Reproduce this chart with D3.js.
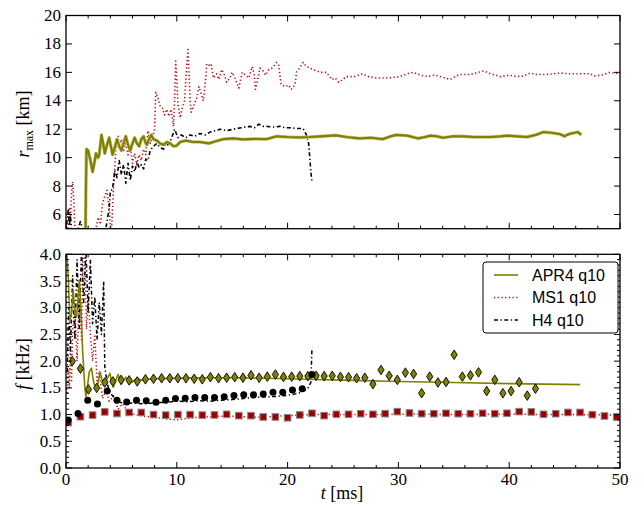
<!DOCTYPE html>
<html><head><meta charset="utf-8">
<script src="https://cdn.jsdelivr.net/npm/d3@7"></script>
<style>
body{margin:0;background:#fff;}
text{font-family:"Liberation Serif",serif;}
.leg{font-family:"Liberation Sans",Arial,sans-serif;}
</style></head>
<body>
<svg id="c" width="644" height="514"></svg>
<script>
// ---------- DATA ----------
const xTicks = [0, 10, 20, 30, 40, 50];
const rTicks = [6, 8, 10, 12, 14, 16, 18, 20];
const fTicks = [0.0, 0.5, 1.0, 1.5, 2.0, 2.5, 3.0, 3.5, 4.0];
const seriesNames = ["APR4 q10", "MS1 q10", "H4 q10"];

// top panel: r_max [km] vs t [ms]
const apr4R = [[1.75,4.0],[1.8,8.0],[1.85,10.6],[2.0,10.5],[2.2,9.8],[2.4,9.0],[2.6,9.8],[2.7,10.3],[2.9,10.0],[3.0,10.2],[3.2,11.6],[3.35,11.0],[3.5,10.3],[3.7,10.9],[3.9,11.4],[4.05,10.8],[4.2,10.2],[4.4,10.7],[4.6,11.3],[4.8,10.8],[5.0,10.5],[5.2,11.0],[5.4,11.5],[5.6,10.9],[5.8,10.5],[6.0,11.0],[6.2,11.4],[6.4,11.0],[6.6,10.8],[6.8,11.3],[7.0,11.5],[7.15,11.1],[7.3,10.9],[7.5,11.3],[7.7,11.6],[7.9,11.3],[8.2,11.2],[8.5,11.0],[8.8,10.9],[9.1,11.1],[9.4,11.0],[9.7,10.8],[10.0,10.85],[10.3,11.1],[10.8,11.2],[11.5,11.1],[12.1,11.1],[12.9,11.0],[13.5,11.15],[14.2,11.3],[15.1,11.35],[16,11.28],[17,11.32],[18.1,11.3],[19.0,11.5],[20,11.45],[21,11.42],[22,11.45],[23,11.5],[24.4,11.57],[25.3,11.45],[26.5,11.35],[27.5,11.4],[28.6,11.3],[29.3,11.5],[29.8,11.6],[30.8,11.55],[31.8,11.35],[32.4,11.45],[32.9,11.55],[33.5,11.5],[34.0,11.4],[34.9,11.5],[35.8,11.5],[36.8,11.45],[37.5,11.45],[38.3,11.45],[39.2,11.5],[39.8,11.55],[40.7,11.5],[41.6,11.45],[42.4,11.6],[43.1,11.8],[43.8,11.75],[44.6,11.65],[45.0,11.5],[45.2,11.6],[45.6,11.7],[46.2,11.8],[46.5,11.6]];
const ms1R = [[0.2,5.0],[0.3,6.5],[0.4,5.5],[0.5,7.5],[0.6,8.3],[0.7,7.0],[0.8,5.0],[1.5,3.0],[2.7,5.0],[2.9,5.8],[3.1,5.3],[3.3,6.8],[3.5,7.3],[3.7,7.7],[3.9,6.5],[4.0,5.2],[4.1,4.8],[4.3,8.0],[4.5,10.5],[4.7,11.5],[4.8,10.8],[5.0,11.3],[5.2,10.5],[5.4,11.0],[5.6,10.2],[5.8,10.8],[6.0,9.6],[6.2,10.3],[6.4,9.5],[6.6,10.2],[6.8,9.8],[7.0,10.6],[7.2,10.2],[7.4,11.9],[7.6,11.0],[7.8,11.4],[8.0,12.0],[8.1,14.6],[8.3,14.2],[8.5,13.6],[8.7,13.5],[8.9,13.0],[9.1,13.4],[9.3,12.9],[9.5,13.4],[9.7,12.2],[9.8,14.0],[9.9,16.8],[10.0,15.5],[10.1,13.8],[10.3,12.8],[10.5,13.5],[10.7,14.0],[10.9,16.5],[11.0,17.6],[11.1,16.0],[11.2,14.0],[11.3,13.2],[11.5,13.6],[11.8,14.2],[12.0,15.0],[12.2,14.5],[12.4,14.0],[12.6,15.5],[12.7,16.6],[12.9,16.5],[13.1,16.6],[13.3,15.6],[13.6,15.9],[13.8,15.5],[14.05,16.2],[14.3,15.8],[14.5,15.3],[14.8,15.6],[15.0,16.0],[15.3,15.5],[15.6,14.9],[15.9,16.0],[16.2,15.8],[16.5,15.6],[16.8,16.4],[17.0,15.8],[17.1,14.8],[17.3,15.5],[17.5,16.3],[17.8,16.1],[18.0,15.8],[18.3,16.2],[18.6,16.3],[19.0,16.7],[19.2,16.5],[19.4,15.2],[19.5,15.1],[19.8,15.0],[20.1,15.1],[20.3,14.8],[20.5,14.9],[20.7,15.3],[20.8,16.0],[21.0,16.2],[21.4,16.7],[21.7,16.4],[22.0,16.3],[22.3,16.2],[22.6,16.1],[23.0,16.0],[23.5,16.0],[24.0,15.5],[24.3,15.6],[24.6,15.3],[25.0,15.5],[25.3,15.7],[26.0,15.7],[26.8,15.9],[27.3,15.7],[28.0,15.6],[29.0,15.6],[30.1,15.7],[30.8,15.9],[31.3,16.0],[32.0,15.8],[32.6,15.7],[33.2,15.8],[33.6,15.75],[34.2,15.6],[34.7,15.5],[35.1,15.7],[35.6,15.85],[36.5,15.85],[37.2,16.0],[37.7,16.1],[38.3,15.9],[38.8,15.8],[39.2,15.7],[40.0,15.8],[40.7,15.7],[41.3,15.75],[41.9,15.95],[42.5,15.85],[43.3,15.85],[44.0,15.9],[44.6,15.95],[45.5,15.9],[46.5,15.9],[47.3,15.9],[47.7,15.75],[48.3,15.8],[49.1,16.0],[49.5,15.95],[50,15.9]];
const h4R = [[0.0,4.6],[0.1,5.6],[0.2,6.3],[0.3,5.2],[0.4,5.9],[0.5,5.0],[0.7,4.5],[1.0,4.8],[1.3,5.5],[1.6,4.7],[2.5,4.0],[3.5,4.5],[3.9,6.5],[4.0,7.6],[4.2,7.8],[4.4,9.1],[4.6,8.6],[4.8,9.8],[5.0,8.8],[5.2,9.5],[5.4,8.2],[5.6,9.6],[5.8,8.4],[6.0,9.4],[6.2,9.0],[6.4,9.7],[6.6,9.3],[6.8,9.5],[7.0,9.2],[7.2,9.9],[7.4,9.8],[7.6,10.5],[7.9,10.8],[8.2,11.0],[8.5,10.7],[8.8,10.6],[9.0,11.0],[9.2,10.9],[9.5,11.3],[9.8,12.0],[10.1,11.4],[10.4,11.6],[10.8,11.4],[11.2,11.6],[11.6,11.5],[12.1,11.7],[12.6,11.6],[13.0,11.8],[13.5,11.9],[13.9,12.0],[14.5,11.9],[15.1,12.0],[15.8,12.1],[16.6,12.2],[17.0,12.1],[17.4,12.35],[17.8,12.2],[18.1,12.2],[18.7,12.15],[19.3,12.2],[19.8,12.1],[20.2,12.1],[20.8,12.05],[21.4,12.05],[21.7,11.6],[21.9,11.0],[22.0,10.0],[22.1,9.0],[22.2,8.3]];

// bottom panel: f [kHz] vs t [ms] (lines)
const apr4F = [[0.05,4.1],[0.2,3.6],[0.35,2.75],[0.5,2.9],[0.65,3.33],[0.8,2.9],[0.96,2.83],[1.1,3.2],[1.2,3.52],[1.35,3.0],[1.5,2.2],[1.7,1.5],[1.8,1.34],[1.95,1.55],[2.1,1.8],[2.3,1.87],[2.5,1.6],[2.75,1.46],[2.9,1.6],[3.07,1.8],[3.25,1.65],[3.4,1.55],[3.6,1.62],[3.97,1.77],[4.1,1.62],[4.27,1.51],[4.5,1.65],[4.7,1.75],[4.85,1.65],[5.0,1.57],[5.2,1.64],[5.4,1.7],[5.65,1.64],[5.9,1.6],[6.15,1.64],[6.4,1.68],[6.7,1.65],[7.0,1.64],[7.5,1.66],[8,1.67],[10,1.68],[12,1.69],[15,1.69],[18,1.68],[20,1.67],[25,1.645],[30,1.62],[35,1.6],[40,1.58],[46.4,1.56]];
const ms1F = [[0.1,1.4],[0.2,1.9],[0.3,1.5],[0.4,2.3],[0.5,1.6],[0.6,2.6],[0.8,3.0],[1.0,2.0],[1.2,3.3],[1.4,2.4],[1.55,4.1],[1.7,3.9],[1.85,2.6],[2.0,3.2],[2.2,2.5],[2.4,2.0],[2.6,2.5],[2.8,1.6],[3.0,1.8],[3.3,1.3],[3.6,1.45],[3.9,1.25],[4.3,1.35],[4.7,1.1],[5.1,1.2],[5.6,1.05],[6.2,1.0],[7,0.97],[8,0.95],[9,0.92],[10,0.9],[11,0.93],[12,0.95],[13,0.96],[14,0.97],[15,0.97],[16,0.96],[17,0.95],[18,0.95],[19,0.97],[20,0.98],[22,1.0],[25,1.0],[28,1.0],[31,1.01],[34,1.0],[37,1.0],[40,1.01],[43,1.0],[46,1.0],[50,0.99]];
const h4F = [[0.1,1.8],[0.25,3.0],[0.4,2.2],[0.6,3.6],[0.8,2.4],[1.0,3.9],[1.2,2.6],[1.4,4.1],[1.6,3.1],[1.8,4.1],[2.0,2.9],[2.2,3.9],[2.4,2.7],[2.6,3.2],[2.8,2.4],[3.0,3.1],[3.2,2.5],[3.4,3.5],[3.5,1.9],[3.7,1.6],[3.9,1.45],[4.2,1.35],[4.6,1.27],[5,1.22],[5.5,1.2],[6,1.22],[7,1.2],[8,1.22],[9,1.23],[10,1.25],[11,1.24],[12,1.26],[13,1.25],[14,1.27],[15,1.28],[16,1.3],[17,1.32],[18,1.33],[19,1.34],[20,1.36],[21,1.4],[21.8,1.48],[22.1,1.6],[22.2,2.25]];

// bottom panel markers
const apr4Mt = [0.57,1.30,2.03,2.77,3.50,4.23,4.97,5.70,6.43,7.17,7.90,8.63,9.37,10.10,10.83,11.57,12.30,13.03,13.77,14.50,15.23,15.97,16.70,17.43,18.17,18.90,19.63,20.37,21.10,21.83,22.57,23.30,24.03,24.77,25.50,26.23,26.97,27.70,28.43,29.17,29.90,30.63,31.37,32.10,32.83,33.57,34.30,35.03,35.77,36.50,37.23,37.97,38.70,39.43,40.17,40.90,41.63,42.37];
const apr4Mf = [2.00,1.86,1.47,1.50,1.60,1.62,1.65,1.64,1.62,1.66,1.67,1.68,1.68,1.68,1.68,1.67,1.66,1.70,1.68,1.69,1.70,1.69,1.735,1.69,1.71,1.75,1.705,1.71,1.72,1.72,1.725,1.72,1.725,1.705,1.70,1.68,1.69,1.57,1.835,1.725,1.65,1.785,1.76,1.40,1.71,1.60,1.61,2.12,1.71,1.735,1.79,1.44,1.65,1.40,1.44,1.605,1.355,1.485];
const h4Mt = [0.2,1.08,1.96,2.84,3.72,4.6,5.48,6.36,7.24,8.12,9.0,9.88,10.76,11.64,12.52,13.4,14.28,15.16,16.04,16.92,17.8,18.68,19.56,20.44,21.32,22.2];
const h4Mf = [0.90,1.02,1.27,1.20,1.44,1.27,1.235,1.27,1.26,1.23,1.27,1.30,1.305,1.32,1.32,1.32,1.335,1.355,1.37,1.37,1.386,1.42,1.42,1.46,1.485,1.75];
const ms1Mt = [0.2,1.3,2.4,3.5,4.6,5.7,6.8,7.9,9.0,10.1,11.2,12.3,13.4,14.5,15.6,16.7,17.8,18.9,20.0,21.1,22.2,23.3,24.4,25.5,26.6,27.7,28.8,29.9,31.0,32.1,33.2,34.3,35.4,36.5,37.6,38.7,39.8,40.9,42.0,43.1,44.2,45.3,46.4,47.5,48.6,49.7];
const ms1Mf = [0.85,0.96,0.99,1.05,1.02,1.04,1.04,1.00,0.99,1.00,1.00,0.99,0.993,1.005,0.98,0.98,0.955,0.955,0.94,0.993,1.024,0.98,1.005,1.005,1.017,1.005,1.017,1.055,1.03,1.017,1.017,1.024,1.017,1.017,1.024,1.017,1.024,1.055,1.05,1.005,1.017,1.04,1.04,0.999,0.974,0.955];

// ---------- STYLE ----------
const OLIVE = "#808000", RED = "#b81414", SQ = "#9a0000";
const svg = d3.select("#c");
const L = 66, R = 620;
const x = d3.scaleLinear().domain([0, 50]).range([L, R]);
const yTop = d3.scaleLinear().domain([5, 20]).range([228.7, 15.5]);
const yBot = d3.scaleLinear().domain([0, 4]).range([468, 254.3]);

const defs = svg.append("defs");
function clip(id, y) {
  defs.append("clipPath").attr("id", id).append("rect")
    .attr("x", L).attr("y", y.range()[1]).attr("width", R - L).attr("height", y.range()[0] - y.range()[1]);
}
clip("cTop", yTop); clip("cBot", yBot);

function drawLine(g, data, y, color, w, dash) {
  g.append("path").datum(data)
    .attr("d", d3.line().x(d => x(d[0])).y(d => y(d[1])))
    .attr("fill", "none").attr("stroke", color).attr("stroke-width", w)
    .attr("stroke-dasharray", dash || null).attr("stroke-linejoin", "round");
}

function ticks(y, yMajor, yMinor, showX) {
  const g = svg.append("g");
  const y0 = y.range()[0], y1 = y.range()[1];
  const xMinor = d3.range(0, 50.01, 2).filter(v => v % 10 !== 0);
  const mk = (x1, y1_, x2, y2_) => g.append("line").attr("x1", x1).attr("y1", y1_).attr("x2", x2).attr("y2", y2_).attr("stroke", "#000").attr("stroke-width", 1);
  xTicks.forEach(v => { mk(x(v), y0, x(v), y0 - 6); mk(x(v), y1, x(v), y1 + 6); });
  xMinor.forEach(v => { mk(x(v), y0, x(v), y0 - 3); mk(x(v), y1, x(v), y1 + 3); });
  yMajor.forEach(v => { mk(L, y(v), L + 6, y(v)); mk(R, y(v), R - 6, y(v)); });
  yMinor.forEach(v => { mk(L, y(v), L + 3, y(v)); mk(R, y(v), R - 3, y(v)); });
  g.append("rect").attr("x", L).attr("y", y1).attr("width", R - L).attr("height", y0 - y1)
    .attr("fill", "none").attr("stroke", "#000").attr("stroke-width", 1.3);
  yMajor.forEach(v => {
    g.append("text").attr("x", L - 5).attr("y", y(v) + 5.5).attr("text-anchor", "end")
      .attr("font-size", 17).text(y === yBot ? d3.format(".1f")(v) : v);
  });
  if (showX) xTicks.forEach(v => {
    g.append("text").attr("x", x(v)).attr("y", y0 + 17).attr("text-anchor", "middle").attr("font-size", 17).text(v);
  });
}

// ---------- TOP PANEL ----------
const gt = svg.append("g").attr("clip-path", "url(#cTop)");
drawLine(gt, ms1R, yTop, RED, 1.6, "1.3,2.4");
drawLine(gt, h4R, yTop, "#000", 1.6, "4,2.5,1.3,2.5");
drawLine(gt, apr4R, yTop, "#c8c880", 3.4);
drawLine(gt, apr4R, yTop, OLIVE, 2.2);
ticks(yTop, rTicks, [], false);

// ---------- BOTTOM PANEL ----------
const gb = svg.append("g").attr("clip-path", "url(#cBot)");
drawLine(gb, ms1F, yBot, RED, 1.5, "1.3,2.4");
drawLine(gb, h4F, yBot, "#000", 1.5, "4,2.5,1.3,2.5");
drawLine(gb, apr4F, yBot, OLIVE, 1.6);
// markers
gb.selectAll(".sq").data(ms1Mt.map((t, i) => [t, ms1Mf[i]])).join("rect")
  .attr("x", d => x(d[0]) - 3.3).attr("y", d => yBot(d[1]) - 3.3).attr("width", 6.6).attr("height", 6.6)
  .attr("fill", SQ).attr("stroke", "#8a8a8a").attr("stroke-width", 1);
gb.selectAll(".dm").data(apr4Mt.map((t, i) => [t, apr4Mf[i]])).join("path")
  .attr("transform", d => `translate(${x(d[0])},${yBot(d[1])})`)
  .attr("d", "M0,-4.8L3.1,0L0,4.8L-3.1,0Z")
  .attr("fill", OLIVE).attr("stroke", "#000").attr("stroke-width", 0.9);
gb.selectAll(".ci").data(h4Mt.map((t, i) => [t, h4Mf[i]])).join("circle")
  .attr("cx", d => x(d[0])).attr("cy", d => yBot(d[1])).attr("r", 3.5).attr("fill", "#000");
ticks(yBot, fTicks, d3.range(0, 4.001, 0.1).filter(v => Math.abs(v * 2 - Math.round(v * 2)) > 1e-6), true);

// ---------- LABELS ----------
const yl1 = svg.append("text").attr("transform", "translate(29,124) rotate(-90)").attr("text-anchor", "middle").attr("font-size", 18);
yl1.append("tspan").attr("font-style", "italic").text("r");
yl1.append("tspan").attr("font-size", 12).attr("dy", 4).text("max");
yl1.append("tspan").attr("dy", -4).text(" [km]");
const yl2 = svg.append("text").attr("transform", "translate(29,364) rotate(-90)").attr("text-anchor", "middle").attr("font-size", 18);
yl2.append("tspan").attr("font-style", "italic").text("f");
yl2.append("tspan").text(" [kHz]");
const xl = svg.append("text").attr("x", 342).attr("y", 499).attr("text-anchor", "middle").attr("font-size", 18);
xl.append("tspan").attr("font-style", "italic").text("t");
xl.append("tspan").text(" [ms]");

// ---------- LEGEND ----------
const lg = svg.append("g");
lg.append("rect").attr("x", 483).attr("y", 262).attr("width", 135).attr("height", 71).attr("rx", 3)
  .attr("fill", "#fff").attr("stroke", "#000").attr("stroke-width", 1);
const legStyles = [[OLIVE, 1.6, null], [RED, 1.5, "1.3,2.4"], ["#000", 1.5, "4,2.5,1.3,2.5"]];
seriesNames.forEach((n, i) => {
  const yy = 275 + i * 22.5;
  lg.append("line").attr("x1", 494).attr("x2", 518).attr("y1", yy).attr("y2", yy)
    .attr("stroke", legStyles[i][0]).attr("stroke-width", legStyles[i][1]).attr("stroke-dasharray", legStyles[i][2]);
  lg.append("text").attr("class", "leg").attr("x", 532).attr("y", yy + 5.5).attr("font-size", 16).text(n);
});
</script>
</body></html>
